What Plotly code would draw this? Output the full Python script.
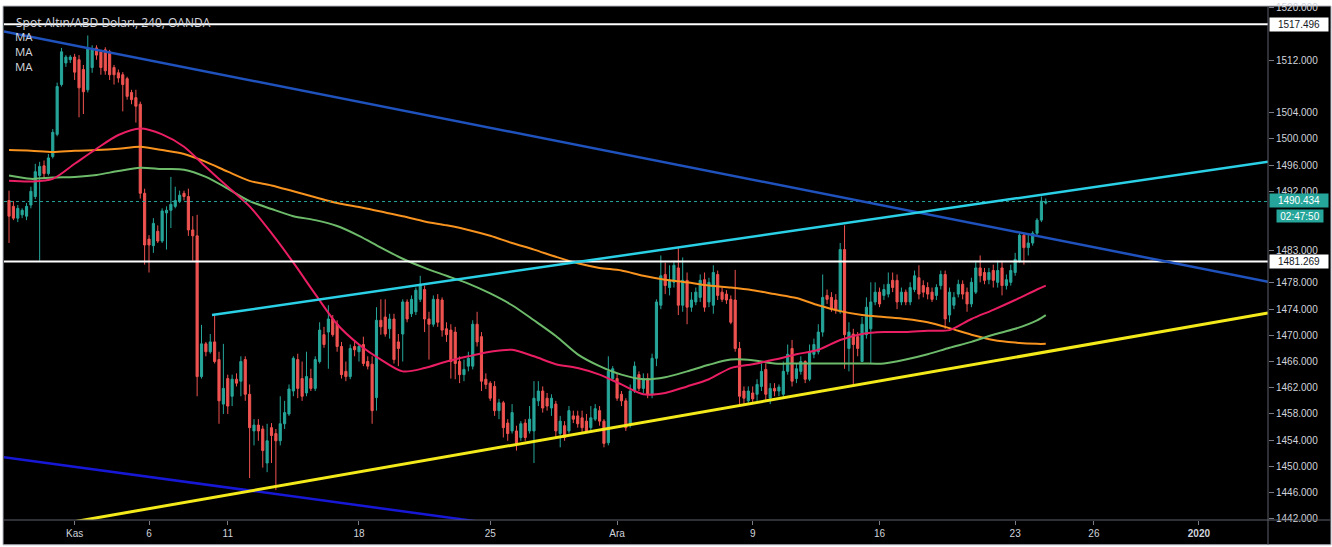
import plotly.graph_objects as go

# ---------------- data (4h candles) ----------------
candles = [
    (1490.6, 1492.1, 1484.1, 1488.2), (1489.7, 1490.5, 1487.6, 1487.9), (1487.9, 1489.9, 1487.3, 1489.4),
    (1488.4, 1489.4, 1487.9, 1489.1), (1488.2, 1490.2, 1487.6, 1489.7), (1489.9, 1492.7, 1489.4, 1492.0),
    (1491.2, 1496.2, 1490.8, 1495.0), (1494.4, 1496.5, 1481.4, 1495.8), (1495.9, 1496.7, 1493.9, 1494.7),
    (1494.7, 1497.7, 1494.4, 1497.1), (1497.3, 1501.5, 1497.0, 1501.0), (1500.7, 1508.6, 1500.4, 1508.0),
    (1508.3, 1513.9, 1508.0, 1513.3), (1511.6, 1512.8, 1511.0, 1512.5), (1512.1, 1512.8, 1511.6, 1512.5),
    (1512.5, 1513.0, 1509.0, 1510.2), (1512.1, 1512.8, 1503.3, 1507.8), (1510.6, 1511.3, 1503.8, 1507.2),
    (1507.5, 1515.8, 1507.1, 1513.9), (1510.9, 1514.3, 1510.1, 1513.6), (1513.9, 1514.3, 1512.1, 1512.8),
    (1513.3, 1513.6, 1509.8, 1510.9), (1513.6, 1514.0, 1509.8, 1510.4), (1513.3, 1513.6, 1509.0, 1509.8),
    (1510.9, 1511.3, 1508.3, 1509.8), (1510.1, 1510.6, 1508.6, 1509.3), (1509.8, 1510.2, 1504.2, 1508.3),
    (1509.2, 1509.5, 1506.0, 1506.5), (1507.1, 1507.5, 1505.3, 1506.0), (1506.3, 1507.5, 1502.5, 1505.0),
    (1505.3, 1505.7, 1490.9, 1491.7), (1491.7, 1492.4, 1480.8, 1483.8), (1484.7, 1485.3, 1479.6, 1483.8),
    (1483.7, 1487.9, 1482.6, 1487.1), (1485.9, 1486.8, 1484.1, 1484.4), (1484.4, 1489.4, 1484.1, 1489.0),
    (1488.7, 1489.7, 1483.1, 1489.1), (1489.1, 1494.2, 1486.4, 1490.0), (1489.7, 1492.7, 1489.4, 1490.6),
    (1490.5, 1492.1, 1490.2, 1491.4), (1491.7, 1492.1, 1490.6, 1491.2), (1491.2, 1492.4, 1485.2, 1486.1),
    (1486.1, 1488.2, 1481.4, 1485.2), (1485.2, 1488.4, 1460.7, 1463.7), (1463.7, 1471.6, 1463.4, 1468.7),
    (1468.7, 1469.0, 1466.8, 1467.5), (1467.5, 1470.2, 1467.2, 1469.0), (1469.0, 1473.3, 1465.7, 1466.0),
    (1466.3, 1467.5, 1456.5, 1460.0), (1459.5, 1468.7, 1458.0, 1461.9), (1463.4, 1464.0, 1458.0, 1459.2),
    (1460.7, 1464.0, 1459.2, 1463.3), (1463.3, 1464.2, 1462.2, 1462.7), (1463.0, 1466.8, 1460.7, 1466.0),
    (1466.3, 1466.8, 1460.0, 1461.0), (1461.0, 1462.5, 1448.2, 1455.9), (1455.4, 1457.2, 1453.2, 1456.3),
    (1456.3, 1457.2, 1453.9, 1455.4), (1455.7, 1456.2, 1449.8, 1452.4), (1450.5, 1456.5, 1449.1, 1453.9),
    (1455.9, 1456.6, 1450.5, 1454.7), (1455.0, 1455.7, 1446.4, 1453.9), (1453.9, 1460.7, 1453.2, 1456.5),
    (1456.5, 1460.0, 1455.7, 1458.2), (1458.0, 1462.5, 1457.7, 1461.8), (1461.5, 1466.8, 1460.7, 1466.5),
    (1466.3, 1467.2, 1460.4, 1461.9), (1463.4, 1466.0, 1460.0, 1460.7), (1461.2, 1467.5, 1460.7, 1463.7),
    (1463.4, 1464.9, 1461.5, 1461.9), (1461.9, 1466.8, 1461.5, 1466.3), (1466.0, 1472.0, 1465.7, 1470.8),
    (1470.1, 1471.3, 1468.1, 1468.6), (1470.5, 1474.6, 1464.9, 1472.5), (1472.5, 1473.1, 1469.8, 1470.1),
    (1471.7, 1472.3, 1467.5, 1468.3), (1468.3, 1469.0, 1463.4, 1464.0), (1464.5, 1466.0, 1463.0, 1463.7),
    (1463.7, 1468.6, 1463.3, 1468.0), (1468.3, 1469.0, 1466.8, 1467.8), (1467.5, 1468.6, 1466.0, 1468.3),
    (1468.6, 1469.8, 1465.3, 1465.7), (1466.0, 1466.8, 1464.8, 1465.3), (1465.6, 1466.8, 1456.5, 1458.5),
    (1460.5, 1474.3, 1458.5, 1472.3), (1472.3, 1475.5, 1470.1, 1471.3), (1472.8, 1475.5, 1469.8, 1470.2),
    (1471.0, 1473.3, 1469.5, 1472.5), (1472.5, 1473.3, 1465.7, 1466.3), (1469.0, 1470.2, 1465.3, 1468.0),
    (1470.2, 1475.5, 1466.0, 1475.1), (1475.1, 1475.5, 1472.0, 1472.5), (1473.3, 1476.1, 1472.8, 1475.5),
    (1473.6, 1477.3, 1473.1, 1476.9), (1475.5, 1479.1, 1475.1, 1477.8), (1477.0, 1477.6, 1470.5, 1472.5),
    (1472.5, 1473.6, 1466.3, 1471.7), (1471.7, 1476.1, 1471.3, 1475.5), (1475.5, 1476.3, 1471.3, 1472.0),
    (1475.4, 1475.8, 1469.8, 1470.8), (1471.0, 1472.0, 1469.0, 1470.1), (1470.8, 1471.7, 1463.4, 1466.0),
    (1470.5, 1471.3, 1463.3, 1465.7), (1466.0, 1466.8, 1462.7, 1464.0), (1464.0, 1466.3, 1463.0, 1464.8),
    (1465.3, 1467.5, 1464.5, 1466.5), (1465.3, 1472.3, 1464.8, 1471.7), (1471.7, 1473.6, 1468.3, 1469.0),
    (1469.8, 1470.5, 1461.5, 1463.0), (1463.3, 1464.2, 1461.8, 1462.5), (1462.7, 1463.0, 1460.0, 1460.4),
    (1462.2, 1463.0, 1457.7, 1458.5), (1458.5, 1460.3, 1457.2, 1459.7), (1459.7, 1460.0, 1454.4, 1455.9),
    (1456.6, 1457.2, 1453.9, 1455.0), (1455.4, 1459.5, 1455.0, 1458.2), (1455.4, 1456.2, 1452.4, 1453.5),
    (1454.4, 1456.9, 1453.9, 1456.5), (1456.6, 1457.2, 1453.9, 1454.4), (1455.4, 1459.2, 1455.0, 1457.2),
    (1455.4, 1463.0, 1450.5, 1460.4), (1460.0, 1463.0, 1459.2, 1461.5), (1461.5, 1462.2, 1458.2, 1458.9),
    (1460.4, 1461.2, 1458.5, 1459.2), (1458.9, 1461.0, 1457.7, 1460.4), (1459.5, 1460.0, 1454.4, 1455.4),
    (1455.0, 1457.7, 1452.9, 1456.9), (1456.2, 1456.9, 1453.9, 1454.4), (1455.4, 1459.2, 1455.0, 1458.5),
    (1457.7, 1458.5, 1456.6, 1457.2), (1457.7, 1458.5, 1455.9, 1456.5), (1457.4, 1458.5, 1455.0, 1455.9),
    (1456.9, 1458.0, 1455.1, 1455.4), (1455.9, 1459.2, 1455.4, 1457.4), (1457.2, 1459.5, 1456.9, 1458.8),
    (1458.5, 1459.2, 1456.2, 1456.9), (1456.9, 1457.2, 1452.9, 1453.5), (1453.6, 1466.8, 1453.2, 1464.5),
    (1463.4, 1465.3, 1463.0, 1464.9), (1463.4, 1464.2, 1460.0, 1460.4), (1461.0, 1461.5, 1459.2, 1460.0),
    (1460.0, 1460.4, 1455.4, 1455.9), (1456.5, 1462.5, 1455.9, 1461.5), (1461.5, 1466.0, 1461.2, 1465.3),
    (1464.0, 1464.5, 1461.5, 1461.9), (1461.9, 1464.2, 1461.2, 1463.4), (1463.4, 1464.2, 1460.4, 1461.0),
    (1461.0, 1467.2, 1460.4, 1466.5), (1466.5, 1475.5, 1465.3, 1475.1), (1474.6, 1482.2, 1474.0, 1479.1),
    (1479.3, 1481.1, 1476.3, 1477.6), (1477.3, 1480.7, 1476.1, 1478.4), (1478.1, 1481.4, 1477.3, 1480.7),
    (1480.3, 1483.4, 1473.1, 1474.6), (1474.6, 1481.9, 1473.6, 1478.4), (1478.4, 1479.6, 1471.7, 1474.3),
    (1474.3, 1476.6, 1473.6, 1475.4), (1475.1, 1477.3, 1474.6, 1476.6), (1475.8, 1479.3, 1475.1, 1478.4),
    (1478.5, 1479.6, 1473.6, 1474.3), (1475.1, 1478.8, 1474.3, 1478.1), (1474.6, 1480.7, 1473.3, 1479.6),
    (1479.3, 1479.9, 1475.4, 1476.1), (1476.6, 1477.3, 1475.1, 1475.5), (1476.3, 1476.9, 1474.8, 1475.4),
    (1475.5, 1476.1, 1471.7, 1472.0), (1475.4, 1480.0, 1467.5, 1468.0), (1468.0, 1469.0, 1459.2, 1460.7),
    (1461.5, 1462.2, 1459.2, 1460.4), (1460.0, 1462.2, 1459.5, 1461.5), (1461.2, 1462.2, 1459.5, 1460.3),
    (1461.0, 1463.3, 1460.0, 1462.5), (1462.2, 1465.7, 1461.5, 1464.5), (1464.8, 1465.7, 1460.0, 1461.0),
    (1460.4, 1462.7, 1459.5, 1461.9), (1461.9, 1462.7, 1460.7, 1461.5), (1461.5, 1462.5, 1460.7, 1462.1),
    (1461.0, 1466.0, 1460.4, 1464.5), (1464.5, 1468.6, 1464.0, 1467.1), (1468.0, 1469.3, 1462.2, 1463.0),
    (1463.4, 1465.7, 1462.7, 1464.9), (1464.5, 1466.8, 1464.0, 1466.0), (1466.0, 1466.2, 1462.7, 1463.3),
    (1463.3, 1468.6, 1463.0, 1467.5), (1467.1, 1469.5, 1466.5, 1468.6), (1467.5, 1471.7, 1467.1, 1470.5),
    (1470.5, 1479.3, 1469.8, 1475.8), (1476.1, 1477.0, 1474.8, 1475.5), (1475.8, 1476.6, 1473.6, 1474.0),
    (1475.4, 1476.3, 1473.3, 1473.9), (1473.6, 1484.1, 1473.3, 1483.1), (1483.1, 1486.8, 1464.9, 1470.1),
    (1468.0, 1472.0, 1464.5, 1470.5), (1470.2, 1471.0, 1462.2, 1468.6), (1469.8, 1470.5, 1466.8, 1468.0),
    (1466.0, 1472.8, 1466.0, 1471.7), (1470.1, 1475.8, 1469.5, 1474.3), (1471.0, 1478.1, 1465.7, 1475.1),
    (1475.1, 1478.1, 1474.6, 1476.6), (1476.6, 1477.3, 1474.3, 1474.8), (1476.1, 1477.8, 1475.4, 1477.0),
    (1476.3, 1479.6, 1475.8, 1477.8), (1478.4, 1479.6, 1476.6, 1477.3), (1478.4, 1479.3, 1474.0, 1475.1),
    (1475.1, 1477.3, 1474.6, 1476.6), (1476.6, 1477.0, 1474.6, 1475.1), (1475.1, 1478.1, 1474.6, 1477.3),
    (1477.0, 1479.9, 1476.6, 1479.1), (1478.8, 1480.7, 1475.5, 1476.3), (1477.6, 1478.4, 1475.8, 1476.6),
    (1477.3, 1478.1, 1475.5, 1476.3), (1476.6, 1477.3, 1475.1, 1475.5), (1476.1, 1477.8, 1475.4, 1477.3),
    (1477.6, 1479.9, 1477.0, 1479.3), (1479.3, 1479.9, 1471.0, 1472.5), (1473.1, 1477.3, 1472.0, 1476.6),
    (1474.6, 1476.6, 1474.0, 1475.8), (1476.3, 1478.5, 1475.8, 1477.8), (1477.8, 1478.4, 1475.5, 1476.3),
    (1476.6, 1477.3, 1473.6, 1474.8), (1474.8, 1478.8, 1474.3, 1478.1), (1476.6, 1481.4, 1476.3, 1480.3),
    (1480.3, 1482.2, 1478.1, 1479.1), (1479.6, 1480.3, 1477.8, 1478.4), (1478.5, 1480.3, 1477.8, 1479.6),
    (1479.9, 1480.8, 1477.3, 1478.4), (1478.1, 1481.4, 1477.3, 1479.9), (1480.3, 1481.4, 1476.1, 1477.6),
    (1477.6, 1479.3, 1477.0, 1478.5), (1478.1, 1480.8, 1477.6, 1479.9), (1479.6, 1482.6, 1479.1, 1481.6),
    (1481.4, 1485.6, 1481.1, 1485.3), (1485.3, 1485.6, 1480.8, 1483.4), (1483.4, 1485.6, 1482.2, 1484.1),
    (1484.1, 1485.9, 1483.7, 1485.6), (1485.6, 1487.9, 1485.2, 1487.6), (1487.6, 1491.2, 1487.3, 1490.5),
    (1490.2, 1490.9, 1490.0, 1490.434),
]
opens = [c[0] for c in candles]
highs = [c[1] for c in candles]
lows = [c[2] for c in candles]
closes = [c[3] for c in candles]
bar_index = list(range(len(candles)))

ma_index = list(range(0, 236, 5)) + [237]
ma_fast = [1493.6, 1493.5, 1493.9, 1496.2, 1498.5, 1500.6, 1501.6, 1500.7, 1498.8, 1495.7, 1492.7, 1489.7,
           1485.6, 1481.1, 1476.3, 1471.7, 1468.6, 1466.3, 1464.5, 1465.0, 1466.0, 1466.8, 1467.5, 1467.8,
           1466.8, 1465.6, 1465.0, 1464.0, 1462.5, 1461.0, 1461.2, 1462.2, 1463.3, 1465.0, 1465.6, 1466.3,
           1467.1, 1467.8, 1469.3, 1470.2, 1470.5, 1470.5, 1470.7, 1470.8, 1472.5, 1473.9, 1475.4, 1477.0, 1477.6]
ma_mid = [1494.4, 1493.9, 1494.1, 1494.2, 1494.5, 1495.1, 1495.6, 1495.4, 1495.3, 1494.2, 1492.4, 1490.5,
          1489.3, 1488.2, 1487.6, 1486.7, 1485.2, 1483.4, 1481.7, 1480.3, 1479.1, 1477.9, 1476.4, 1474.6,
          1472.3, 1469.9, 1467.1, 1465.3, 1464.0, 1463.3, 1463.6, 1464.5, 1465.5, 1466.3, 1466.2, 1465.7,
          1465.7, 1465.7, 1465.7, 1465.7, 1465.7, 1466.3, 1467.1, 1468.1, 1469.0, 1470.1, 1471.0, 1472.3, 1473.1]
ma_slow = [1498.3, 1498.2, 1498.0, 1498.2, 1498.3, 1498.5, 1498.8, 1498.3, 1497.7, 1496.5, 1495.0, 1493.6,
           1492.9, 1492.0, 1491.1, 1490.2, 1489.6, 1488.9, 1488.2, 1487.4, 1486.8, 1486.1, 1485.2, 1484.1,
           1483.1, 1482.0, 1481.0, 1480.3, 1479.9, 1479.1, 1478.5, 1478.1, 1477.6, 1477.3, 1476.9, 1476.3,
           1475.7, 1474.6, 1473.7, 1473.1, 1472.8, 1472.5, 1472.0, 1471.1, 1470.1, 1469.3, 1468.9, 1468.7, 1468.7]

# drawn trend lines: (x bar index, price) anchors
x_lo, x_hi = -1.15, 287.8
down_line_x, down_line_y = [x_lo, x_hi], [1516.4, 1478.2]
low_down_x, low_down_y = [x_lo, 130], [1451.4, 1439.5]
cyan_x, cyan_y = [46.4, x_hi], [1473.1, 1496.5]
yellow_x, yellow_y = [0, x_hi], [1439.8, 1473.4]
res_top = 1517.496
res_mid = 1481.269
last_price = 1490.434
countdown = "02:47:50"

# axes
x_tick_index = [15, 32, 50, 80, 110, 139, 170, 199, 230, 248, 272]
x_tick_text = ["Kas", "6", "11", "18", "25", "Ara", "9", "16", "23", "26", "<b>2020</b>"]
y_ticks = [1442, 1446, 1450, 1454, 1458, 1462, 1466, 1470, 1474, 1478, 1483, 1492, 1496, 1500, 1504, 1512, 1520]

title_text = "Spot Altın/ABD Doları, 240, OANDA"
legend_labels = ["MA", "MA", "MA"]

# ---------------- figure ----------------
W, H = 1332, 547
ML, MR, MT, MB = 4, 64, 2, 27
PW, PH = W - ML - MR, H - MT - MB

def pxx(px):
    return (px - ML) / PW

def pxy(py):
    return (H - MB - py) / PH

GREEN, RED = "#26a69a", "#ef5350"
fig = go.Figure()
fig.add_trace(go.Candlestick(
    x=bar_index, open=opens, high=highs, low=lows, close=closes,
    increasing=dict(line=dict(color=GREEN, width=1), fillcolor=GREEN),
    decreasing=dict(line=dict(color=RED, width=1), fillcolor=RED),
    whiskerwidth=0, hoverinfo="skip", showlegend=False))

for ys, col in [(ma_slow, "#f7931e"), (ma_mid, "#6dbb6a"), (ma_fast, "#e91e63")]:
    fig.add_trace(go.Scatter(x=ma_index, y=ys, mode="lines",
                             line=dict(color=col, width=2, shape="spline", smoothing=0.8),
                             hoverinfo="skip", showlegend=False))

def add_line(xs, ys, color, width, dash=None):
    fig.add_trace(go.Scatter(x=xs, y=ys, mode="lines",
                             line=dict(color=color, width=width, dash=dash),
                             hoverinfo="skip", showlegend=False))

add_line([x_lo, x_hi], [last_price, last_price], GREEN, 1, "dot")
add_line([x_lo, x_hi], [res_top, res_top], "#ffffff", 2)
add_line([x_lo, x_hi], [res_mid, res_mid], "#ffffff", 2)
add_line(down_line_x, down_line_y, "#1f52bd", 2.5)
add_line(low_down_x, low_down_y, "#1717d6", 2.5)
add_line(cyan_x, cyan_y, "#2ad0e6", 2.5)
add_line(yellow_x, yellow_y, "#f4ea1a", 3)

axis_font = dict(family="Liberation Sans, Arial, sans-serif", size=10, color="#d1d4dc")
fig.update_layout(
    width=W, height=H, margin=dict(l=ML, r=MR, t=MT, b=MB),
    paper_bgcolor="#ffffff", plot_bgcolor="#000000",
    showlegend=False,
    xaxis=dict(range=[x_lo, x_hi], showgrid=False, zeroline=False, showline=False,
               rangeslider=dict(visible=False), tickmode="array",
               tickvals=x_tick_index, ticktext=x_tick_text, ticks="outside", ticklen=4,
               tickcolor="#787b86", tickfont=axis_font, fixedrange=True),
    yaxis=dict(range=[1441.8, 1520.3], side="right", showgrid=False, zeroline=False, showline=False,
               tickmode="array", tickvals=y_ticks, ticktext=[f"{v:.3f}" for v in y_ticks],
               ticks="outside", ticklen=5, tickcolor="#787b86", tickfont=axis_font, fixedrange=True,
               ticklabeloverflow="allow"),
    shapes=[
        dict(type="rect", xref="paper", yref="paper", x0=pxx(3), x1=pxx(1331), y0=pxy(545), y1=pxy(2),
             fillcolor="#000000", line=dict(color="#b2b5be", width=1), layer="below"),
        dict(type="line", xref="paper", yref="paper", x0=pxx(3), x1=pxx(1331), y0=0, y1=0,
             line=dict(color="#5d606b", width=1)),
        dict(type="line", xref="paper", yref="paper", x0=1, x1=1, y0=pxy(545), y1=pxy(2),
             line=dict(color="#5d606b", width=1)),
    ],
)

label_font = dict(family="Liberation Sans, Arial, sans-serif", size=10)
anns = [
    dict(x=1, xref="paper", y=res_top, yref="y", text=f"{res_top:.3f}", xanchor="left", yanchor="middle",
         showarrow=False, bgcolor="#ffffff", font=dict(color="#131722", **label_font), width=58, height=13,
         borderpad=0, xshift=1),
    dict(x=1, xref="paper", y=res_mid, yref="y", text=f"{res_mid:.3f}", xanchor="left", yanchor="middle",
         showarrow=False, bgcolor="#ffffff", font=dict(color="#131722", **label_font), width=58, height=13,
         borderpad=0, xshift=1),
    dict(x=1, xref="paper", y=last_price, yref="y", text=f"{last_price:.3f}", xanchor="left", yanchor="middle",
         showarrow=False, bgcolor=GREEN, font=dict(color="#ffffff", **label_font), width=58, height=13,
         borderpad=0, xshift=1, yshift=1),
    dict(x=1, xref="paper", y=last_price, yref="y", text=countdown, xanchor="left", yanchor="middle",
         showarrow=False, bgcolor=GREEN, font=dict(color="#ffffff", **label_font), width=46, height=12,
         borderpad=0, xshift=8, yshift=-14),
    dict(x=pxx(14), xref="paper", y=pxy(19), yref="paper", text=title_text, xanchor="left", yanchor="middle",
         showarrow=False, font=dict(family="Open Sans, Liberation Sans, sans-serif", size=12, color="#d1d4dc")),
]
for lbl, yy in zip(legend_labels, (32, 47, 62)):
    anns.append(dict(x=pxx(14), xref="paper", y=pxy(yy), yref="paper", text=lbl, xanchor="left",
                     yanchor="middle", showarrow=False, height=14, borderpad=0,
                     font=dict(family="Open Sans, Liberation Sans, sans-serif", size=11.5, color="#d1d4dc")))
fig.update_layout(annotations=anns)

fig.write_html("out.html")
